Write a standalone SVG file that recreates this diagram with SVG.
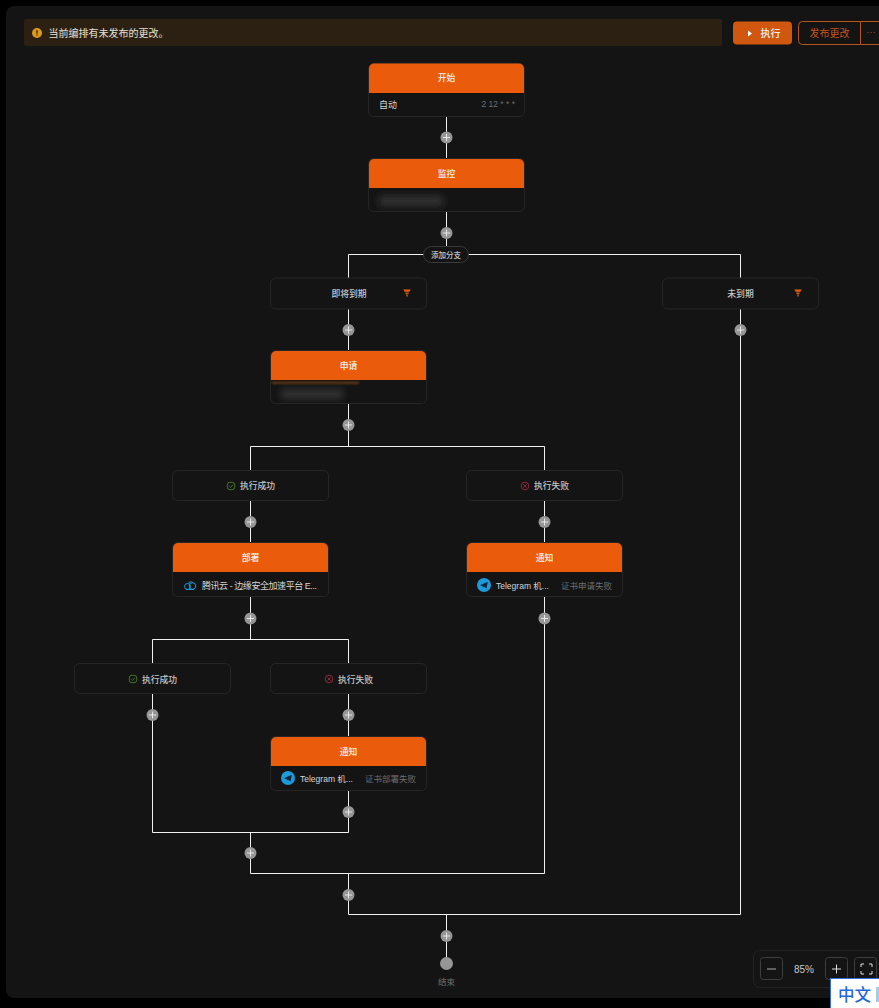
<svg xmlns="http://www.w3.org/2000/svg" width="879" height="1008" viewBox="0 0 879 1008">
<defs>
<style>
text{font-family:"Liberation Sans","Noto Sans CJK SC",sans-serif}
.card{fill:#141414;stroke:#262626;stroke-width:1}
.hd{fill:#ea5c0c}
.ht{fill:#f6f0ea;font-size:8.800px;font-weight:500;text-anchor:middle}
.bt{fill:#d6d6d6;font-size:9px}
.tl{fill:#d6d6d6;font-size:8.500px}
.dt{fill:#6e6e6e;font-size:8.500px}
.ct{fill:#c6c6c6;font-size:8.800px;font-weight:500;text-anchor:middle}
.wire{fill:none;stroke:#f0f0f0;stroke-width:1}
.add{fill:#969696}
.pl{stroke:#e8e8e8;stroke-width:1;fill:none}
.btn{fill:none;stroke:#3e3e3e;stroke-width:1}
</style>
<filter id="b" x="-30%" y="-100%" width="160%" height="300%"><feGaussianBlur stdDeviation="3.500"/></filter>
<filter id="b2" x="-10%" y="-200%" width="120%" height="500%"><feGaussianBlur stdDeviation="1"/></filter>
<g id="plus"><circle class="add" r="6"/><path class="pl" d="M-3.500 0H3.500M0-3.500V3.500"/></g>
<g id="funnel"><path d="M-3.700-3.500H3.700L2.400-1.200H-2.400Z" fill="#ea5c0c"/><path d="M-2-.6H2L1 1.500H-1Z" fill="#c9560f"/><rect x="-1" y="1.800" width="2" height="1.700" fill="#8a4a1c"/></g>
<g id="ok"><rect x="-3.700" y="-3.700" width="7.400" height="7.400" rx="2.600" fill="none" stroke="#4f8a2a" stroke-width=".8"/><path d="M-1.800 0L-.4 1.400L1.900-1.200" fill="none" stroke="#4f8a2a" stroke-width=".8"/></g>
<g id="no"><circle r="3.800" fill="none" stroke="#b02c48" stroke-width=".8"/><path d="M-1.600-1.600L1.600 1.600M1.600-1.600L-1.600 1.600" stroke="#b02c48" stroke-width=".8"/></g>
<g id="tg"><circle r="7" fill="#1d9ad9"/><path d="M-4 .2L3.800-3.200L2.500 3.600L-.2 1.600L-1 2.800L-1.400 .9Z" fill="#14243a"/></g>
</defs>
<rect width="879" height="1008" fill="#000"/>
<rect x="6" y="6" width="880" height="992" rx="8" fill="#141414"/>

<g id="toolbar">
<rect x="24" y="19" width="698" height="27" rx="2" fill="#2c2012"/>
<circle cx="37" cy="33" r="5" fill="#dc9a1c"/><rect x="36.400" y="30" width="1.200" height="3.600" fill="#2c2012"/><rect x="36.400" y="34.400" width="1.200" height="1.200" fill="#2c2012"/>
<text x="48.500" y="37" font-size="10" fill="#e4e0d8">当前编排有未发布的更改。</text>
<rect x="733" y="21.500" width="59" height="23" rx="4" fill="#cf5710"/>
<path d="M748 30.500L752 33.500L748 36.500Z" fill="#fff"/>
<text x="760.500" y="37" font-size="10" font-weight="500" fill="#f0f0f0">执行</text>
<path d="M860.500 21.500H802.500a4 4 0 0 0-4 4v15a4 4 0 0 0 4 4h58Z M860.500 21.500H879 M860.500 44.500H879" fill="none" stroke="#b8561c"/>
<text x="809.500" y="37" font-size="10" fill="#c2541a">发布更改</text>
<text x="871" y="35" font-size="9" fill="#a85a2a" text-anchor="middle">···</text>
</g>

<g id="connectors">
<path class="wire" d="M446.500 117V159M446.500 212V254.500M348.500 278V254.500H740.500V278M348.500 309V351M740.500 309V914.500M348.500 404V446.500M250.500 471V446.500H544.500V471M250.500 501V543M544.500 501V543M250.500 597V639.500M152.500 664V639.500H348.500V664M348.500 694V737M152.500 694V832.500H348.500M348.500 791V832.500M250.500 832.500V873.500H544.500V597M348.500 873.500V914.500H740.500M446.500 914.500V958"/>
</g>

<g id="branch-add"><rect x="423.500" y="246.500" width="45" height="16" rx="8" fill="#141414" stroke="#3a3a3a"/><text x="446" y="257.500" font-size="7.500" font-weight="500" fill="#c8c8c8" text-anchor="middle">添加分支</text></g>

<g id="adds">
<use href="#plus" x="446.500" y="137.500"/><use href="#plus" x="446.500" y="233"/><use href="#plus" x="348.500" y="330"/><use href="#plus" x="740.500" y="330"/><use href="#plus" x="348.500" y="425"/><use href="#plus" x="250.500" y="522"/><use href="#plus" x="544.500" y="522"/><use href="#plus" x="250.500" y="618.500"/><use href="#plus" x="544.500" y="618.500"/><use href="#plus" x="152.500" y="715"/><use href="#plus" x="348.500" y="715"/><use href="#plus" x="348.500" y="812"/><use href="#plus" x="250.500" y="853"/><use href="#plus" x="348.500" y="895"/><use href="#plus" x="446.500" y="936"/>
</g>

<g id="node-start"><rect class="card" x="368.500" y="63.500" width="156" height="53" rx="5"/><path class="hd" d="M369 93V68.500a5 5 0 0 1 5-5h145a5 5 0 0 1 5 5V93Z"/><text class="ht" x="446.500" y="81">开始</text><text class="bt" x="379" y="108">自动</text><text class="dt" x="515" y="107" text-anchor="end">2 12 * * *</text></g>
<g id="node-monitor"><rect class="card" x="368.500" y="158.500" width="156" height="53" rx="5"/><path class="hd" d="M369 188V164a5 5 0 0 1 5-5h145a5 5 0 0 1 5 5v24Z"/><text class="ht" x="446.500" y="177">监控</text><rect x="379" y="196" width="64" height="10" fill="#333" filter="url(#b)"/></g>
<g id="node-soon"><rect class="card" x="270.500" y="278" width="156" height="31" rx="5"/><text class="ct" x="349" y="297">即将到期</text><use href="#funnel" x="407" y="293"/></g>
<g id="node-notyet"><rect class="card" x="662.500" y="278" width="156" height="31" rx="5"/><text class="ct" x="740.500" y="297">未到期</text><use href="#funnel" x="798" y="293"/></g>
<g id="node-apply"><rect class="card" x="270.500" y="350.500" width="156" height="53" rx="5"/><path class="hd" d="M271 380V356a5 5 0 0 1 5-5h145a5 5 0 0 1 5 5v24Z"/><text class="ht" x="348.500" y="369">申请</text><rect x="272" y="382" width="87" height="1.500" fill="#8a4a1c" filter="url(#b2)"/><rect x="281" y="389" width="62" height="10" fill="#333" filter="url(#b)"/></g>
<g id="node-ok1"><rect class="card" x="172.500" y="470.500" width="156" height="30" rx="5"/><use href="#ok" x="231" y="486"/><text class="ct" x="257.500" y="489">执行成功</text></g>
<g id="node-fail1"><rect class="card" x="466.500" y="470.500" width="156" height="30" rx="5"/><use href="#no" x="525" y="486"/><text class="ct" x="551.500" y="489">执行失败</text></g>
<g id="node-deploy"><rect class="card" x="172.500" y="542.500" width="156" height="54" rx="5"/><path class="hd" d="M173 572V548a5 5 0 0 1 5-5h145a5 5 0 0 1 5 5v24Z"/><text class="ht" x="250.500" y="561">部署</text><g fill="none" stroke="#1c9ad6" stroke-width="1"><circle cx="187.500" cy="586.500" r="3"/><circle cx="192.500" cy="586" r="3.300"/><path d="M186 589.500H194M188 583.500a3.500 3.500 0 0 1 5-1"/></g><text class="bt" x="202" y="588.500" fill="#cfcfcf" textLength="115">腾讯云 - 边缘安全加速平台 E...</text></g>
<g id="node-notify1"><rect class="card" x="466.500" y="542.500" width="156" height="54" rx="5"/><path class="hd" d="M467 572V548a5 5 0 0 1 5-5h145a5 5 0 0 1 5 5v24Z"/><text class="ht" x="544.500" y="561">通知</text><use href="#tg" x="484" y="585"/><text class="tl" x="496" y="588.500">Telegram 机...</text><text class="dt" x="612" y="588.500" text-anchor="end">证书申请失败</text></g>
<g id="node-ok2"><rect class="card" x="74.500" y="663.500" width="156" height="30" rx="5"/><use href="#ok" x="133" y="679"/><text class="ct" x="159.500" y="682.500">执行成功</text></g>
<g id="node-fail2"><rect class="card" x="270.500" y="663.500" width="156" height="30" rx="5"/><use href="#no" x="329" y="679"/><text class="ct" x="355.500" y="682.500">执行失败</text></g>
<g id="node-notify2"><rect class="card" x="270.500" y="736.500" width="156" height="54" rx="5"/><path class="hd" d="M271 766V742a5 5 0 0 1 5-5h145a5 5 0 0 1 5 5v24Z"/><text class="ht" x="348.500" y="755">通知</text><use href="#tg" x="288" y="778"/><text class="tl" x="300" y="781.500">Telegram 机...</text><text class="dt" x="416" y="781.500" text-anchor="end">证书部署失败</text></g>
<g id="node-end"><circle cx="446.500" cy="963.500" r="6.500" fill="#969696"/><text x="446.500" y="985" font-size="8.500" fill="#6e6e6e" text-anchor="middle">结束</text></g>

<g id="zoom-bar">
<rect x="753.500" y="950.500" width="140" height="37" rx="6" fill="#141414" stroke="#222"/>
<rect class="btn" x="760.500" y="957.500" width="22" height="22" rx="3"/><path d="M767 969H776" stroke="#aaa"/>
<text x="804" y="973" font-size="10" fill="#c8c8c8" text-anchor="middle">85%</text>
<rect class="btn" x="825.500" y="957.500" width="22" height="22" rx="3"/><path d="M832 969H841M836.500 964.500V973.500" stroke="#ddd"/>
<rect class="btn" x="854.500" y="957.500" width="22" height="22" rx="3"/><path d="M861 967V964H864M869 964H872V967M872 971V974H869M864 974H861V971" fill="none" stroke="#ddd"/>
</g>
<g id="translate-badge"><rect x="830.500" y="978.500" width="60" height="40" fill="#fff" stroke="#2f6fe0"/><text x="838" y="1001" font-size="16.500" font-weight="500" fill="#2468dc">中文</text><rect x="876" y="987" width="3" height="15" fill="#a8cbe8"/></g>
</svg>
